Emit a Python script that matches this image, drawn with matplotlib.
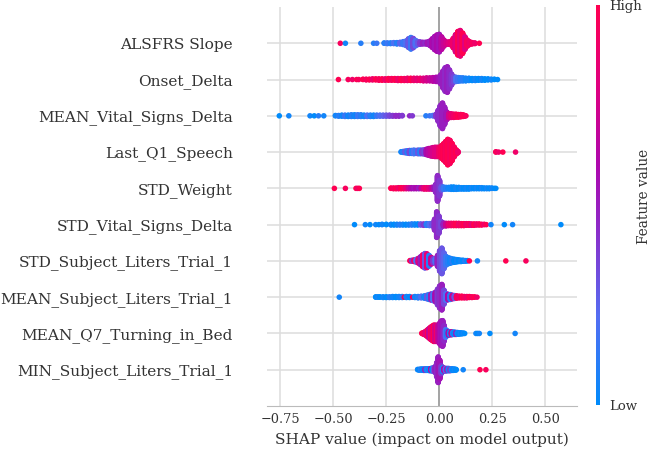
import numpy as np
import matplotlib
matplotlib.use("Agg")
import matplotlib.pyplot as plt
from matplotlib.colors import LinearSegmentedColormap
from matplotlib.cm import ScalarMappable

features = ["ALSFRS Slope", "Onset_Delta", "MEAN_Vital_Signs_Delta", "Last_Q1_Speech",
            "STD_Weight", "STD_Vital_Signs_Delta", "STD_Subject_Liters_Trial_1",
            "MEAN_Subject_Liters_Trial_1", "MEAN_Q7_Turning_in_Bed", "MIN_Subject_Liters_Trial_1"]

# (shap value, number of samples, normalised feature value)
alsfrs_slope = [
    (-0.467, 1, 0.95), (-0.443, 1, 0.05), (-0.37, 1, 0.1), (-0.31, 1, 0.1), (-0.295, 1, 0.15),
    (-0.26, 2, 0.1), (-0.245, 3, 0.15), (-0.23, 3, 0.1), (-0.215, 4, 0.2), (-0.2, 5, 0.1),
    (-0.185, 6, 0.25), (-0.17, 10, 0.15),
    (-0.157, 15, 0.2), (-0.145, 28, 0.3), (-0.134, 37, 0.15), (-0.123, 30, 0.35), (-0.112, 18, 0.2),
    (-0.1, 10, 0.3), (-0.09, 8, 0.4), (-0.078, 6, 0.5), (-0.066, 6, 0.45), (-0.055, 8, 0.55),
    (-0.044, 15, 0.5), (-0.033, 28, 0.6), (-0.022, 42, 0.55), (-0.011, 52, 0.6), (0.0, 56, 0.55),
    (0.011, 40, 0.65), (0.022, 20, 0.7), (0.033, 8, 0.75), (0.044, 8, 0.8), (0.055, 12, 0.85),
    (0.066, 30, 0.9), (0.077, 55, 0.8), (0.088, 75, 1.0), (0.099, 81, 0.85), (0.11, 65, 1.0),
    (0.121, 40, 0.8), (0.132, 20, 0.95), (0.143, 10, 0.9), (0.155, 5, 0.95), (0.168, 3, 0.9),
    (0.189, 1, 1.0),
]
onset_delta = [
    (-0.476, 1, 1.0), (-0.43, 1, 0.95), (-0.41, 1, 0.9), (-0.39, 1, 1.0), (-0.38, 1, 0.95),
    (-0.36, 2, 1.0), (-0.345, 3, 0.95), (-0.33, 3, 1.0), (-0.315, 4, 0.9), (-0.3, 4, 1.0),
    (-0.285, 5, 0.95), (-0.27, 5, 1.0), (-0.255, 5, 0.9), (-0.24, 6, 1.0), (-0.225, 6, 0.95),
    (-0.21, 6, 1.0), (-0.195, 7, 0.9), (-0.18, 7, 1.0), (-0.165, 7, 0.95), (-0.15, 8, 0.9),
    (-0.135, 8, 1.0), (-0.12, 8, 0.9), (-0.105, 8, 0.85), (-0.09, 8, 0.9), (-0.075, 9, 0.8),
    (-0.06, 10, 0.75), (-0.045, 10, 0.7), (-0.03, 12, 0.65), (-0.015, 14, 0.6), (0.0, 18, 0.55),
    (0.008, 30, 0.5), (0.018, 55, 0.5), (0.028, 75, 0.45), (0.038, 81, 0.5), (0.048, 60, 0.45),
    (0.058, 35, 0.4), (0.068, 18, 0.35),
    (0.079, 14, 0.2), (0.09, 12, 0.15), (0.101, 10, 0.1), (0.112, 10, 0.1), (0.125, 9, 0.05),
    (0.14, 8, 0.05), (0.155, 7, 0.0), (0.17, 7, 0.05), (0.185, 6, 0.0), (0.2, 6, 0.05),
    (0.215, 5, 0.0), (0.23, 4, 0.0), (0.245, 3, 0.05), (0.26, 2, 0.0), (0.275, 1, 0.0),
]
mean_vital_signs_delta = [
    (-0.755, 1, 0.0), (-0.71, 1, 0.05), (-0.61, 1, 0.05), (-0.59, 1, 0.0), (-0.57, 1, 0.1),
    (-0.545, 1, 0.05),
    (-0.49, 2, 0.05), (-0.475, 3, 0.1), (-0.46, 4, 0.05), (-0.445, 5, 0.15), (-0.43, 5, 0.05),
    (-0.415, 6, 0.1), (-0.4, 6, 0.05), (-0.385, 6, 0.15), (-0.37, 6, 0.1), (-0.355, 5, 0.05),
    (-0.34, 5, 0.2), (-0.325, 5, 0.1), (-0.31, 5, 0.05), (-0.295, 4, 0.15), (-0.28, 4, 0.2),
    (-0.265, 4, 0.25), (-0.25, 4, 0.3), (-0.235, 4, 0.35), (-0.22, 3, 0.4), (-0.205, 3, 0.45),
    (-0.19, 3, 0.45), (-0.175, 2, 0.4), (-0.14, 1, 0.45), (-0.127, 1, 0.4),
    (-0.063, 1, 0.1), (-0.045, 1, 0.15), (-0.03, 2, 0.2),
    (-0.015, 10, 0.4), (-0.005, 35, 0.45), (0.005, 65, 0.45), (0.015, 81, 0.5), (0.025, 55, 0.5),
    (0.035, 25, 0.55),
    (0.046, 14, 0.75), (0.057, 12, 0.85), (0.068, 11, 0.9), (0.079, 10, 0.95), (0.09, 9, 1.0),
    (0.101, 8, 0.95), (0.112, 6, 1.0), (0.12, 3, 1.0), (0.126, 1, 0.95),
]
last_q1_speech = [
    (-0.18, 2, 0.05), (-0.17, 4, 0.1), (-0.16, 6, 0.3), (-0.15, 8, 0.1), (-0.14, 10, 0.35),
    (-0.13, 10, 0.1), (-0.12, 12, 0.2), (-0.11, 10, 0.15), (-0.1, 12, 0.3), (-0.09, 12, 0.1),
    (-0.08, 12, 0.4), (-0.07, 14, 0.35),
    (-0.06, 18, 0.6), (-0.05, 22, 0.65), (-0.04, 25, 0.7), (-0.03, 28, 0.75), (-0.02, 30, 0.8),
    (-0.01, 30, 0.8),
    (0.0, 30, 0.9), (0.01, 40, 0.95), (0.02, 52, 1.0), (0.03, 66, 0.95), (0.04, 81, 1.0),
    (0.05, 74, 0.95), (0.06, 55, 1.0), (0.07, 32, 0.95), (0.08, 14, 1.0), (0.088, 5, 0.9),
    (0.267, 2, 0.95), (0.28, 1, 0.9), (0.3, 1, 1.0), (0.36, 1, 0.9),
]
std_weight = [
    (-0.495, 1, 1.0), (-0.443, 1, 0.95), (-0.393, 1, 1.0), (-0.385, 1, 0.9), (-0.377, 1, 1.0),
    (-0.228, 2, 1.0), (-0.216, 3, 0.95), (-0.204, 3, 1.0), (-0.192, 4, 0.9), (-0.18, 4, 1.0),
    (-0.168, 4, 0.95), (-0.156, 4, 0.85), (-0.144, 4, 0.7), (-0.132, 4, 0.6), (-0.12, 4, 0.55),
    (-0.108, 4, 0.6), (-0.096, 4, 0.5), (-0.084, 4, 0.7), (-0.072, 5, 0.85), (-0.06, 5, 0.9),
    (-0.048, 5, 0.8), (-0.036, 6, 0.7), (-0.026, 8, 0.55),
    (-0.017, 25, 0.45), (-0.008, 81, 0.45), (0.001, 50, 0.4),
    (0.01, 12, 0.3), (0.02, 8, 0.15), (0.032, 6, 0.1), (0.044, 6, 0.05), (0.056, 8, 0.05),
    (0.068, 8, 0.0), (0.08, 7, 0.05), (0.092, 6, 0.0), (0.104, 5, 0.05), (0.116, 5, 0.0),
    (0.128, 5, 0.05), (0.14, 5, 0.0), (0.152, 4, 0.05), (0.164, 4, 0.0), (0.176, 4, 0.05),
    (0.188, 4, 0.0), (0.2, 4, 0.05), (0.212, 3, 0.0), (0.224, 3, 0.05), (0.236, 3, 0.0),
    (0.248, 2, 0.05), (0.26, 1, 0.0), (0.267, 1, 0.0),
]
std_vital_signs_delta = [
    (-0.4, 1, 0.0), (-0.349, 1, 0.05), (-0.327, 1, 0.0), (-0.3, 1, 0.05), (-0.285, 1, 0.0),
    (-0.27, 2, 0.05), (-0.25, 2, 0.0),
    (-0.228, 3, 0.05), (-0.214, 3, 0.0), (-0.2, 3, 0.05), (-0.186, 3, 0.1), (-0.172, 3, 0.05),
    (-0.158, 3, 0.0), (-0.144, 3, 0.05), (-0.13, 4, 0.1), (-0.116, 4, 0.05), (-0.102, 4, 0.0),
    (-0.088, 4, 0.3), (-0.074, 5, 0.4), (-0.06, 6, 0.1), (-0.046, 7, 0.2), (-0.032, 10, 0.3),
    (-0.022, 35, 0.45), (-0.012, 81, 0.45), (-0.002, 55, 0.4), (0.008, 20, 0.35),
    (0.02, 10, 0.5), (0.032, 9, 0.7), (0.044, 8, 0.85), (0.056, 8, 0.9), (0.068, 8, 0.95),
    (0.08, 8, 1.0), (0.092, 8, 0.9), (0.104, 7, 0.95), (0.116, 7, 1.0), (0.128, 6, 0.9),
    (0.14, 6, 0.95), (0.152, 5, 0.85), (0.164, 5, 1.0), (0.176, 4, 0.9), (0.188, 4, 0.95),
    (0.2, 3, 1.0), (0.212, 2, 0.9), (0.222, 1, 1.0),
    (0.244, 1, 0.05), (0.307, 1, 0.0), (0.346, 1, 0.05), (0.574, 1, 0.0),
]
std_subject_liters_trial_1 = [
    (-0.138, 2, 0.95), (-0.128, 4, 0.4), (-0.118, 6, 0.9), (-0.108, 10, 0.2), (-0.098, 16, 0.8),
    (-0.088, 26, 0.5), (-0.078, 38, 0.9), (-0.068, 46, 0.3), (-0.058, 44, 0.85), (-0.048, 34, 0.1),
    (-0.038, 22, 0.7), (-0.028, 14, 0.4), (-0.018, 14, 0.2), (-0.008, 35, 0.5),
    (0.002, 65, 0.35), (0.012, 81, 0.3), (0.022, 50, 0.25),
    (0.032, 28, 0.15), (0.042, 20, 0.1), (0.052, 16, 0.05), (0.062, 12, 0.1), (0.072, 10, 0.0),
    (0.082, 8, 0.05), (0.092, 6, 0.0), (0.102, 5, 0.05), (0.112, 4, 0.0), (0.122, 3, 0.1),
    (0.132, 2, 0.0),
    (0.142, 1, 1.0), (0.18, 1, 0.05), (0.314, 1, 1.0), (0.409, 1, 0.95),
]
mean_subject_liters_trial_1 = [
    (-0.472, 1, 0.05),
    (-0.3, 2, 0.0), (-0.29, 2, 0.05), (-0.28, 2, 0.0), (-0.265, 3, 0.05), (-0.25, 3, 0.0),
    (-0.235, 3, 0.1), (-0.22, 4, 0.05), (-0.205, 4, 0.0), (-0.19, 4, 0.05), (-0.175, 4, 0.1),
    (-0.165, 1, 1.0), (-0.155, 4, 0.05), (-0.14, 4, 0.0), (-0.126, 1, 0.95), (-0.115, 4, 0.05),
    (-0.1, 5, 0.1), (-0.085, 6, 0.2), (-0.07, 8, 0.05),
    (-0.058, 12, 0.3), (-0.048, 16, 0.1), (-0.038, 20, 0.5), (-0.028, 24, 0.2), (-0.018, 30, 0.6),
    (-0.008, 50, 0.4),
    (0.002, 70, 0.45), (0.012, 81, 0.5), (0.022, 45, 0.35),
    (0.032, 22, 0.2), (0.042, 18, 0.6), (0.052, 16, 0.1), (0.062, 12, 0.7), (0.072, 10, 0.3),
    (0.082, 8, 0.95), (0.094, 6, 0.9), (0.106, 6, 1.0), (0.118, 5, 0.95), (0.13, 5, 0.9),
    (0.142, 4, 1.0), (0.154, 3, 0.95), (0.166, 2, 1.0), (0.178, 1, 0.9),
]
mean_q7_turning_in_bed = [
    (-0.082, 2, 1.0), (-0.075, 5, 0.95), (-0.068, 10, 0.9), (-0.061, 16, 0.8), (-0.054, 24, 1.0),
    (-0.047, 32, 0.7), (-0.04, 40, 0.95), (-0.033, 46, 0.85), (-0.026, 52, 1.0), (-0.019, 52, 0.75),
    (-0.012, 50, 0.9), (-0.005, 55, 0.7),
    (0.002, 65, 0.6), (0.009, 78, 0.55), (0.016, 81, 0.5), (0.023, 50, 0.45),
    (0.03, 25, 0.2), (0.037, 16, 0.1), (0.044, 12, 0.6), (0.051, 10, 0.05), (0.058, 10, 0.7),
    (0.065, 8, 0.1), (0.072, 8, 0.0), (0.079, 7, 0.5), (0.086, 6, 0.05), (0.093, 5, 0.0),
    (0.1, 4, 0.05), (0.107, 3, 0.0), (0.114, 2, 0.05), (0.12, 1, 0.0),
    (0.173, 1, 0.05), (0.181, 1, 0.0), (0.189, 1, 0.05), (0.239, 1, 0.0), (0.358, 1, 0.05),
]
min_subject_liters_trial_1 = [
    (-0.102, 2, 0.05), (-0.095, 3, 0.0), (-0.088, 4, 0.1), (-0.081, 4, 0.05), (-0.074, 5, 0.0),
    (-0.067, 5, 0.5), (-0.06, 6, 0.05), (-0.053, 6, 0.1), (-0.046, 7, 0.0), (-0.039, 8, 0.6),
    (-0.032, 10, 0.05), (-0.025, 14, 0.3), (-0.018, 20, 0.5),
    (-0.012, 45, 0.45), (-0.005, 81, 0.5), (0.002, 60, 0.55),
    (0.009, 25, 0.4), (0.016, 14, 0.1), (0.023, 10, 0.6), (0.03, 9, 0.2), (0.037, 8, 0.5),
    (0.044, 8, 0.05), (0.051, 7, 0.4), (0.058, 6, 0.1), (0.065, 5, 0.0), (0.072, 4, 0.05),
    (0.079, 3, 0.0),
    (0.113, 1, 0.05), (0.192, 1, 1.0), (0.22, 1, 0.95),
]

rows = [alsfrs_slope, onset_delta, mean_vital_signs_delta, last_q1_speech, std_weight,
        std_vital_signs_delta, std_subject_liters_trial_1, mean_subject_liters_trial_1,
        mean_q7_turning_in_bed, min_subject_liters_trial_1]

# shap-like red/blue colormap
red_blue = LinearSegmentedColormap.from_list("red_blue", [
    (0.0, (0.0, 0.545, 0.984)),
    (0.22, (0.33, 0.43, 0.95)),
    (0.45, (0.56, 0.16, 0.78)),
    (0.6, (0.68, 0.03, 0.68)),
    (0.8, (0.88, 0.0, 0.5)),
    (1.0, (1.0, 0.0, 0.318)),
])


def swarm_offsets(shaps, row_height=0.4, nbins=100):
    # same stacking idea as shap's beeswarm
    quant = np.round(nbins * (shaps - shaps.min()) / (shaps.max() - shaps.min() + 1e-8))
    inds = np.argsort(quant, kind="stable")
    ys = np.zeros(len(shaps))
    layer, last_bin = 0, -1
    for i in inds:
        if quant[i] != last_bin:
            layer = 0
        ys[i] = np.ceil(layer / 2) * ((layer % 2) * 2 - 1)
        layer += 1
        last_bin = quant[i]
    return ys * 0.9 * (row_height / np.max(ys + 1))


plt.rcParams['font.family'] = ['DejaVu Serif']
text_col = '#333333'

fig = plt.figure(figsize=(6.52, 4.5), dpi=100)
ax = fig.add_axes([267 / 652, 44 / 450, 310 / 652, 399 / 450])

n = len(features)
for i, row in enumerate(rows):
    vals = np.array([r[0] for r in row])
    cnts = np.array([r[1] for r in row])
    fv = np.array([r[2] for r in row])
    shaps = np.repeat(vals, cnts)
    colors = np.repeat(fv, cnts)
    pos = n - 1 - i
    ys = swarm_offsets(shaps)
    ax.scatter(shaps, pos + ys, c=colors, cmap=red_blue, vmin=0, vmax=1,
               s=16, linewidths=0, zorder=3)

ax.axvline(0, color='#999999', lw=1.2, zorder=1)
ax.set_xlim(-0.813, 0.65)
ax.set_ylim(-1, n)
ax.set_yticks(range(n))
ax.set_yticklabels(features[::-1], fontsize=11.1, color=text_col)
ax.set_xticks([-0.75, -0.5, -0.25, 0.0, 0.25, 0.5])
ax.set_xticklabels(['\u22120.75', '\u22120.50', '\u22120.25', '0.00', '0.25', '0.50'],
                   fontsize=9.3, color=text_col)
ax.tick_params(axis='y', length=0, pad=24.5)
ax.tick_params(axis='x', length=0, pad=5)
ax.grid(True, color='#dddddd', lw=1.1, zorder=0)
ax.set_axisbelow(True)
for s in ['top', 'right', 'left']:
    ax.spines[s].set_visible(False)
ax.spines['bottom'].set_color('#bbbbbb')
ax.set_xlabel('SHAP value (impact on model output)', fontsize=11.1, color=text_col, labelpad=5)

cax = fig.add_axes([596 / 652, 45 / 450, 4 / 652, 400 / 450])
cb = fig.colorbar(ScalarMappable(cmap=red_blue), cax=cax, ticks=[0, 1])
cb.set_ticklabels(['Low', 'High'])
cb.outline.set_visible(False)
cax.tick_params(length=0, pad=7, labelsize=9.5, labelcolor=text_col)
fig.text(644 / 652, 1 - 196 / 450, 'Feature value', rotation=90, ha='center', va='center',
         fontsize=9.8, color=text_col)

fig.savefig('out.png', dpi=100)
